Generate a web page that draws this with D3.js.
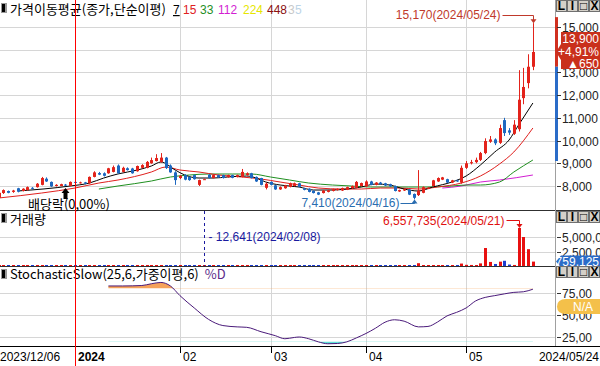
<!DOCTYPE html>
<html><head><meta charset="utf-8">
<script src="https://cdn.jsdelivr.net/npm/d3@7/dist/d3.min.js"></script>
<style>
body{margin:0;background:#fff;overflow:hidden}
svg{display:block}
text{font-family:"Liberation Sans",Arial,"Noto Sans CJK KR",sans-serif;font-size:12px}
.kr{font-family:"Noto Sans CJK KR","Liberation Sans",sans-serif;font-size:13px}
</style>
</head><body>
<svg id="c" width="600" height="366"></svg>
<script>
// ---------------- data ----------------
const dec = [6,7,8,11,12,13,14,15,18,19,20,21,22,26,27,28];
const jan = [2,3,4,5,8,9,10,11,12,15,16,17,18,19,22,23,24,25,26,29,30,31];
const feb = [1,2,5,6,7,8,13,14,15,16,19,20,21,22,23,26,27,28,29];
const mar = [4,5,6,7,8,11,12,13,14,15,18,19,20,21,22,25,26,27,28,29];
const apr = [1,2,3,4,5,8,9,11,12,15,16,17,18,19,22,23,24,25,26,29,30];
const may = [2,3,7,8,9,10,13,14,16,17,20,21,22,23,24];

const opens = [7480,7690,7780,7740,7900,7780,7820,7920,7950,8050,8320,8180,8000,8000,8060,8000,
8180,8130,8160,8120,8400,8570,8560,8560,8620,8900,8620,8780,8770,8650,8800,8800,9000,9100,9050,9250,8900,8600,
8350,8480,8400,8480,8050,8300,8500,8350,8480,8480,8390,8480,8400,8400,8480,8560,8400,8350,7920,
8180,8030,7850,7900,7960,8000,8120,7900,7880,7790,7720,7690,7740,7780,7820,7800,7840,7900,7920,8000,
7980,8200,8050,8150,8120,8080,8000,7760,7800,7840,7650,7600,7700,7880,8000,8200,8280,8300,8150,8250,8150,
8800,9000,9050,9150,9450,9950,10050,9900,10900,10450,10300,10500,11870,12530,13250];
const highs = [7750,7850,7800,7830,7920,7900,7980,7950,8130,8400,8380,8200,8080,8100,8090,8200,
8200,8190,8180,8420,8650,8620,8600,8800,8900,8950,8850,8820,8800,8900,8960,9100,9250,9400,9450,9280,8950,8650,
8480,8520,8420,8500,8280,8320,8520,8500,8500,8500,8500,8500,8500,8750,8600,8580,8420,8360,8150,
8200,8050,7980,8050,8150,8150,8140,7920,7900,7810,7740,7820,7830,7880,7890,7930,7970,8020,8220,8150,
8250,8230,8170,8180,8140,8100,8020,7840,7880,7860,7670,8700,7980,7950,8270,8380,8400,8320,8270,8280,8900,
9100,9150,9250,9500,10100,10200,10100,10700,11000,10550,10900,13100,13200,13800,15170];
const lows = [7450,7650,7680,7700,7720,7760,7800,7860,7930,8030,8180,7960,7980,7990,8000,7990,
8120,8110,8080,8100,8380,8480,8420,8540,8600,8540,8600,8680,8540,8630,8780,8780,8980,9080,9030,8750,8580,8050,
8300,8250,8230,8280,8000,8280,8330,8330,8360,8330,8370,8340,8380,8380,8460,8330,8180,8030,7850,
8030,7830,7830,7880,7940,7980,7940,7810,7720,7670,7600,7670,7720,7760,7800,7780,7820,7880,7900,7980,
7960,8030,8030,8060,8000,7960,7760,7740,7780,7600,7410,7560,7680,7860,7980,8180,8260,8130,8130,8180,8100,
8750,8950,9000,9100,9400,9900,9800,9850,10200,10250,10250,10400,11600,12300,13100];
const closes = [7700,7820,7700,7800,7750,7880,7950,7880,8100,8350,8200,7980,8050,8080,8020,8180,
8140,8160,8100,8400,8600,8500,8450,8780,8830,8560,8800,8700,8560,8880,8920,9060,9140,9230,9250,8790,8600,8260,
8450,8280,8260,8300,8260,8300,8350,8480,8380,8350,8480,8360,8480,8620,8560,8350,8200,8050,8100,
8050,7850,7950,8030,8120,8120,7960,7830,7740,7690,7620,7800,7810,7860,7870,7910,7950,8000,8180,8130,
8200,8050,8150,8080,8020,7980,7780,7820,7860,7620,7480,7800,7950,7930,8250,8350,8380,8150,8250,8200,8800,
9000,9050,9150,9450,9980,10050,9880,10550,10330,10350,10700,11800,12360,13250,13900];
const volumes = [85000,62000,41000,38000,55000,47000,60000,33000,72000,150000,90000,66000,28000,35000,30000,58000,
40000,31000,36000,120000,98000,52000,47000,110000,88000,95000,60000,42000,58000,70000,65000,90000,105000,130000,140000,160000,95000,110000,
45000,60000,52000,40000,48000,12641,44000,38000,30000,35000,29000,33000,31000,85000,40000,45000,60000,70000,65000,
50000,62000,35000,30000,40000,38000,34000,41000,45000,50000,38000,30000,28000,26000,30000,33000,36000,40000,78000,52000,
70000,55000,40000,38000,36000,42000,60000,35000,30000,48000,75000,480000,160000,70000,150000,95000,60000,55000,50000,45000,420000,
200000,180000,150000,450000,3100000,700000,350000,750000,900000,250000,180000,6557735,5000000,2900000,759125];

// moving averages (index, value)
const ma7Idx = [4,15,19,22,25,29,32,34,37,39,42,45,48,52,54,56,59,63,66,70,73,76,79,82,85,88,91,95,98,101,104,107,109,112];
const ma7Val = [7780,8000,8130,8350,8530,8700,8880,9056,8704,8484,8351,8351,8396,8440,8351,8175,8043,7955,7823,7823,7867,7955,8087,8043,7867,7779,7955,8175,8440,8924,9496,10024,10685,11654];
const ma15Idx = [0,9,16,21,25,32,35,38,42,46,51,55,59,63,67,72,76,80,84,88,92,97,101,105,108,112];
const ma15Val = [7471,7691,7911,8131,8263,8616,8836,8704,8616,8484,8396,8308,8175,8043,7911,7867,7867,7911,7911,7867,7955,8131,8440,8968,9496,10553];
const ma33Idx = [21,25,32,36,40,44,49,53,57,61,65,70,74,78,82,86,90,95,98,101,105,108,112];
const ma33Val = [7867,8000,8219,8396,8484,8528,8528,8528,8396,8263,8131,8043,7999,7955,7955,7955,7955,7999,8043,8043,8175,8616,9144];
const ma112Idx = [93,97,101,105,112];
const ma112Val = [7911,7999,8175,8263,8484];

// stochastic slow %D
const stoIdx = [23,26,30,32,34,36,38,41,44,47,50,52,55,58,60,62,63,65,67,69,71,73,75,77,79,81,83,85,88,90,92,94,96,98,100,102,104,106,108,110,112];
const stoVal = [83,83,83.5,85.5,87,83,72,58,45,38,36.5,36,31,26.5,23,24.5,25,23,19.5,17.3,17.6,19.5,24,29,35,41.8,44.6,43,36.5,37,42,49,53,58,66,70,72,74,75.7,76.4,79.3];

const priceTicks = [8000,9000,10000,11000,12000,13000,14000,15000];
const volTicks = [2500000,5000000];
const stoTicks = [25,50,75];
const axisDates = ["2023/12/06","2024/01/02","2024/02/01","2024/03/04","2024/04/01","2024/05/02","2024/05/24"];
const axisLabels = ["2023/12/06","2024","02","03","04","05","2024/05/24"];
const maNames = ["7","15","33","112","224","448","3","5"];
const maColors = ["#000000","#e0201e","#1f8f1f","#d21ed2","#e6e600","#8b1010","#c8c8c8","#bcd4e6"];

// ---------------- build ----------------
const pad = n => String(n).padStart(2,"0");
const dates = [].concat(
  dec.map(d=>"2023/12/"+pad(d)), jan.map(d=>"2024/01/"+pad(d)), feb.map(d=>"2024/02/"+pad(d)),
  mar.map(d=>"2024/03/"+pad(d)), apr.map(d=>"2024/04/"+pad(d)), may.map(d=>"2024/05/"+pad(d)));
const n = dates.length;
const candles = dates.map((d,i)=>({d,i,o:opens[i],h:highs[i],l:lows[i],c:closes[i],v:volumes[i]}));

const RED="#e3231b", BLUE="#1e68c0", GRID="#d6d6d6";
const svg = d3.select("#c");
const W = 555;
const x = d3.scaleLinear().domain([0,n-1]).range([-1.3, 532.9]);
const y = d3.scaleLinear().domain([8000,15000]).range([186,27]);
const vy = d3.scaleLinear().domain([0,5000000]).range([266,237]);
const sy = d3.scaleLinear().domain([25,75]).range([337,293]);

const monthIdx = axisDates.slice(2,6).map(d=>dates.indexOf(d));
const janIdx = dates.indexOf(axisDates[1]);

// grids
const g = svg.append("g");
g.selectAll(".vg").data(monthIdx).join("line")
  .attr("x1",d=>Math.round(x(d))+0.5).attr("x2",d=>Math.round(x(d))+0.5)
  .attr("y1",0).attr("y2",346).attr("stroke",GRID);
g.selectAll(".hg").data(priceTicks).join("line")
  .attr("x1",0).attr("x2",W).attr("y1",d=>Math.round(y(d))+0.5).attr("y2",d=>Math.round(y(d))+0.5).attr("stroke",GRID);
g.selectAll(".vhg").data(volTicks).join("line")
  .attr("x1",0).attr("x2",W).attr("y1",d=>Math.round(vy(d))+0.5).attr("y2",d=>Math.round(vy(d))+0.5).attr("stroke",GRID);
g.selectAll(".shg").data(stoTicks).join("line")
  .attr("x1",0).attr("x2",W).attr("y1",d=>Math.round(sy(d))+0.5).attr("y2",d=>Math.round(sy(d))+0.5).attr("stroke",GRID);

// clip for main
svg.append("clipPath").attr("id","mainclip").append("rect").attr("x",0).attr("y",0).attr("width",W).attr("height",210);
const main = svg.append("g").attr("clip-path","url(#mainclip)");

// MA lines
const maLine = d3.line().x(d=>x(d[0])).y(d=>y(d[1])).curve(d3.curveMonotoneX);
const maSets = [[ma112Idx,ma112Val,maColors[3]],[ma33Idx,ma33Val,maColors[2]],[ma15Idx,ma15Val,maColors[1]],[ma7Idx,ma7Val,maColors[0]]];
maSets.forEach(([ix,vv,col])=>{
  main.append("path").datum(ix.map((k,j)=>[k,vv[j]])).attr("d",maLine)
    .attr("fill","none").attr("stroke",col).attr("stroke-width",1);
});

// candles
const cg = main.selectAll(".cd").data(candles).join("g");
cg.append("line").attr("x1",d=>Math.round(x(d.i))+0.5).attr("x2",d=>Math.round(x(d.i))+0.5)
  .attr("y1",d=>y(d.h)).attr("y2",d=>y(d.l)).attr("stroke",d=>d.c>=d.o?RED:BLUE);
cg.append("rect").attr("x",d=>Math.round(x(d.i))-1).attr("width",3)
  .attr("y",d=>y(Math.max(d.o,d.c))).attr("height",d=>Math.max(1,Math.abs(y(d.o)-y(d.c))))
  .attr("fill",d=>d.c>=d.o?RED:BLUE);

// volume bars
svg.selectAll(".vb").data(candles).join("rect")
  .attr("x",d=>Math.round(x(d.i))-1).attr("width",3)
  .attr("y",d=>Math.min(vy(d.v),265)).attr("height",d=>Math.max(1,266-vy(d.v)))
  .attr("fill",d=>d.c>=d.o?"#e81010":"#1c3cd0");

// stochastic
const sPts = stoIdx.map((k,j)=>[k,stoVal[j]]);
const sLine = d3.line().x(d=>x(d[0])).y(d=>sy(d[1])).curve(d3.curveMonotoneX);
svg.append("clipPath").attr("id","hi").append("rect").attr("x",0).attr("y",0).attr("width",W).attr("height",sy(80));
svg.append("clipPath").attr("id","lo").append("rect").attr("x",0).attr("y",sy(20)).attr("width",W).attr("height",30);
const areaHi = d3.area().x(d=>x(d[0])).y0(sy(80)).y1(d=>sy(d[1])).curve(d3.curveMonotoneX);
const areaLo = d3.area().x(d=>x(d[0])).y0(sy(20)).y1(d=>sy(d[1])).curve(d3.curveMonotoneX);
svg.append("path").datum(sPts).attr("d",areaHi).attr("fill","#f5a25a").attr("clip-path","url(#hi)");
svg.append("path").datum(sPts).attr("d",areaLo).attr("fill","#5fe0d8").attr("clip-path","url(#lo)");
svg.append("path").datum(sPts).attr("d",sLine).attr("fill","none").attr("stroke","#4a1a7a").attr("stroke-width",1);

// panel separators
svg.append("line").attr("x1",0).attr("x2",600).attr("y1",210.5).attr("y2",210.5).attr("stroke","#303030");
svg.append("line").attr("x1",0).attr("x2",600).attr("y1",266.5).attr("y2",266.5).attr("stroke","#303030");
svg.append("line").attr("x1",0).attr("x2",600).attr("y1",346.5).attr("y2",346.5).attr("stroke","#000");
svg.append("line").attr("x1",W+0.5).attr("x2",W+0.5).attr("y1",0).attr("y2",346).attr("stroke","#a0a0a0");

// right price axis
svg.append("rect").attr("x",W).attr("y",y(15170)-6).attr("width",3).attr("height",y(13250)-y(15170)+6).attr("fill","#d03020");
svg.append("rect").attr("x",W).attr("y",y(13250)).attr("width",3).attr("height",y(9100)-y(13250)).attr("fill","#2a6cc8");
const ax = svg.append("g");
const shownPrice = priceTicks.filter(d=>d!==14000); // 14,000 sits behind the price box
ax.selectAll("line.t").data(priceTicks).join("line").attr("x1",557).attr("x2",561)
  .attr("y1",d=>Math.round(y(d))+0.5).attr("y2",d=>Math.round(y(d))+0.5).attr("stroke","#333");
ax.selectAll("text.t").data(shownPrice).join("text").attr("x",562).attr("y",d=>y(d)+5)
  .attr("fill","#222").text(d=>d3.format(",")(d));
ax.selectAll("line.v").data(volTicks).join("line").attr("x1",557).attr("x2",561)
  .attr("y1",d=>Math.round(vy(d))+0.5).attr("y2",d=>Math.round(vy(d))+0.5).attr("stroke","#333");
ax.selectAll("text.v").data(volTicks).join("text").attr("x",562).attr("y",d=>vy(d)+5)
  .attr("fill","#222").text(d=>d3.format(",")(d));
ax.selectAll("line.s").data(stoTicks).join("line").attr("x1",557).attr("x2",561)
  .attr("y1",d=>Math.round(sy(d))+0.5).attr("y2",d=>Math.round(sy(d))+0.5).attr("stroke","#333");
ax.selectAll("text.s").data(stoTicks).join("text").attr("x",562).attr("y",d=>sy(d)+5)
  .attr("fill","#222").text(d=>d3.format(".2f")(d).replace(".",","));

// price box
const last = candles[n-1], prev = candles[n-2];
const diff = last.c-prev.c, pct = diff/prev.c*100;
const cy = y(last.c);
svg.append("path").attr("d",`M${W+1},${cy} L561,${cy-8} L561,32 L600,32 L600,69 L561,69 L561,${cy+8} Z`).attr("fill","#c9301c");
svg.append("text").attr("x",599).attr("y",43).attr("text-anchor","end").attr("fill","#fff").text(d3.format(",")(last.c));
svg.append("text").attr("x",599).attr("y",56).attr("text-anchor","end").attr("fill","#fff").text("+"+pct.toFixed(2).replace(".",",")+"%");
svg.append("text").attr("x",599).attr("y",68).attr("text-anchor","end").attr("fill","#fff").text("▲"+diff);

// volume label
const vly = vy(last.v);
svg.append("path").attr("d",`M${W+1},${vly} L561,${vly-6} L600,${vly-6} L600,${vly+6} L561,${vly+6} Z`).attr("fill","#2a6cc8");
svg.append("text").attr("x",599).attr("y",vly+4.5).attr("text-anchor","end").attr("fill","#fff").text(d3.format(",")(last.v));

// stochastic N/A label
svg.append("path").attr("d","M566,299 L600,299 L600,314 L566,314 Q557,314 557,306.5 Q557,299 566,299 Z").attr("fill","#f4c04a");
svg.append("text").attr("x",583).attr("y",311).attr("text-anchor","middle").attr("fill","#fff").text("N/A");

// window buttons
[3,214,269].forEach(by=>{
  ["L","I","□","X"].forEach((t,k)=>{
    const bx = 556+k*11;
    svg.append("rect").attr("x",bx+0.5).attr("y",by-2.5).attr("width",10).attr("height",11).attr("fill","#d4d0c8").attr("stroke","#707070");
    svg.append("text").attr("x",bx+5.5).attr("y",by+7).attr("text-anchor","middle").attr("font-size",11).attr("font-weight","bold").attr("fill","#000").text(t);
  });
});

// bottom axis
const axIdx = axisDates.map(d=>dates.indexOf(d));
svg.selectAll(".bt").data(axIdx.slice(2,6)).join("line")
  .attr("x1",d=>Math.round(x(d))+0.5).attr("x2",d=>Math.round(x(d))+0.5).attr("y1",347).attr("y2",353).attr("stroke","#000");
axisLabels.forEach((t,k)=>{
  const tx = k===0?0:(k===axisLabels.length-1?599:Math.round(x(axIdx[k]))+3);
  svg.append("text").attr("x",tx).attr("y",361).attr("fill","#000")
    .attr("text-anchor",k===axisLabels.length-1?"end":"start")
    .attr("font-weight",k===1?"bold":"normal").text(t);
});

// titles
function icon(ix,iy){
  svg.append("rect").attr("x",ix).attr("y",iy).attr("width",6).attr("height",10).attr("fill","#999");
  svg.append("rect").attr("x",ix+1).attr("y",iy+1).attr("width",3).attr("height",8).attr("fill","#000");
}
icon(1,3);
svg.append("text").attr("x",10).attr("y",14).attr("class","kr").attr("fill","#000").text("가격이동평균(종가,단순이평)");
const legendX = [173,183,200,218,243,267,288,295];
maNames.forEach((t,k)=>{
  svg.append("text").attr("x",legendX[k]).attr("y",14).attr("font-size",11).attr("fill",maColors[k])
    .attr("text-decoration",k===0?"underline":null).text(t);
});
icon(1,213);
svg.append("text").attr("x",10).attr("y",224).attr("class","kr").text("거래량");
icon(1,269);
const st = svg.append("text").attr("x",10).attr("y",279).attr("class","kr").attr("font-size",12);
st.append("tspan").attr("fill","#000").text("StochasticSlow(25,6,가중이평,6)");
st.append("tspan").attr("dx",6).attr("fill","#5a2a8a").text("%D");

// annotations: max / min
const hiIdx = d3.maxIndex(candles,d=>d.h), loIdx = d3.minIndex(candles,d=>d.l);
const hx = Math.round(x(hiIdx))+0.5, hy = y(candles[hiIdx].h);
svg.append("text").attr("x",hx-33).attr("y",19).attr("text-anchor","end").attr("fill","#c0392b")
  .text(d3.format(",")(candles[hiIdx].h)+"("+dates[hiIdx]+")");
svg.append("path").attr("d",`M${hx-31},15.5 L${hx},15.5 L${hx},${hy-3}`).attr("fill","none").attr("stroke","#c0392b");
svg.append("path").attr("d",`M${hx-3},${hy-4} L${hx+3},${hy-4} L${hx},${hy} Z`).attr("fill","#c0392b");

const lx = Math.round(x(loIdx))+0.5, ly = y(candles[loIdx].l);
svg.append("text").attr("x",lx-15).attr("y",207).attr("text-anchor","end").attr("fill","#2a6db0")
  .text(d3.format(",")(candles[loIdx].l)+"("+dates[loIdx]+")");
svg.append("path").attr("d",`M${lx-14},203.5 L${lx},203.5 L${lx},${ly+3}`).attr("fill","none").attr("stroke","#2a6db0");
svg.append("path").attr("d",`M${lx-3},${ly+4} L${lx+3},${ly+4} L${lx},${ly} Z`).attr("fill","#2a6db0");

// ex-dividend marker
const exIdx = dates.indexOf("2023/12/27");
const ex = Math.round(x(exIdx))+0.5;
svg.append("path").attr("d",`M${ex-4},193 L${ex},188 L${ex+4},193 L${ex+2},193 L${ex+2},199 L${ex-2},199 L${ex-2},193 Z`).attr("fill","#000");
svg.append("text").attr("x",28).attr("y",209).attr("class","kr").attr("font-size",12).attr("fill","#000").text("배당락(0,00%)");

// volume annotations
const vmax = d3.maxIndex(candles,d=>d.v), vmin = d3.minIndex(candles,d=>d.v);
const vmx = Math.round(x(vmax))+0.5, vmy = vy(candles[vmax].v);
svg.append("text").attr("x",vmx-15).attr("y",225).attr("text-anchor","end").attr("fill","#e01010")
  .text(d3.format(",")(candles[vmax].v)+"("+dates[vmax]+")");
svg.append("path").attr("d",`M${vmx-13},220.5 L${vmx},220.5 L${vmx},${vmy-3}`).attr("fill","none").attr("stroke","#e01010");
svg.append("path").attr("d",`M${vmx-3},${vmy-4} L${vmx+3},${vmy-4} L${vmx},${vmy} Z`).attr("fill","#e01010");
const vnx = Math.round(x(vmin))+0.5;
svg.append("line").attr("x1",vnx).attr("x2",vnx).attr("y1",211).attr("y2",266).attr("stroke","#1a1aa0").attr("stroke-dasharray","3,3");
svg.append("text").attr("x",vnx+4).attr("y",241).attr("fill","#1a1aa0")
  .text("- "+d3.format(",")(candles[vmin].v)+"("+dates[vmin]+")");

// red year line (on top of everything)
svg.append("rect").attr("x",Math.round(x(janIdx))).attr("width",1)
  .attr("y",0).attr("height",366).attr("fill","#ff0000");
</script>
</body></html>
